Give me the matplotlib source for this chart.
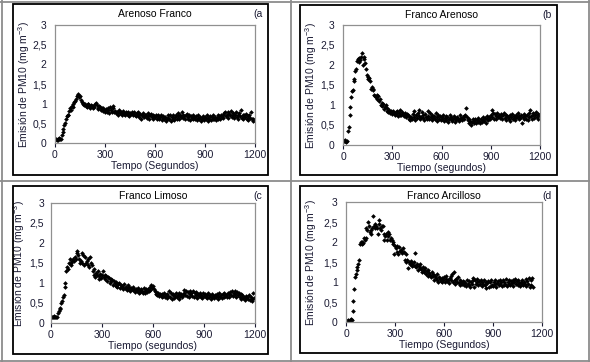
import numpy as np
import matplotlib.pyplot as plt
from matplotlib.patches import Rectangle
from matplotlib.lines import Line2D

plt.rcParams['font.family'] = ['Liberation Sans', 'DejaVu Sans']
plt.rcParams['mathtext.fontset'] = 'custom'
plt.rcParams['mathtext.rm'] = 'Liberation Sans'
plt.rcParams['mathtext.it'] = 'Liberation Sans'

# PM10 emission (mg m-3), one reading every 5 s
step = 5

arenoso_franco = [
    0.08, 0.1, 0.07, 0.1, 0.08, 0.12, 0.1, 0.1, 0.2, 0.28, 0.35, 0.45,
    0.5, 0.62, 0.68, 0.72, 0.7, 0.82, 0.88, 0.85, 0.95, 0.92, 1.0, 1.05,
    1.08, 1.12, 1.2, 1.25, 1.22, 1.18, 1.2, 1.1, 1.05, 0.98, 1.02, 0.96,
    1.0, 0.95, 0.92, 0.98, 1.0, 0.93, 0.9, 0.97, 0.94, 0.88, 0.95, 0.92,
    1.0, 1.02, 0.97, 0.9, 0.86, 0.95, 0.92, 0.85, 0.88, 0.82, 0.9, 0.84,
    0.8, 0.86, 0.78, 0.88, 0.83, 0.76, 0.92, 0.84, 0.8, 0.95, 0.88, 0.78,
    0.82, 0.75, 0.8, 0.72, 0.78, 0.84, 0.75, 0.8, 0.72, 0.77, 0.82, 0.74,
    0.7, 0.78, 0.75, 0.72, 0.8, 0.68, 0.76, 0.73, 0.79, 0.7, 0.74, 0.8,
    0.72, 0.68, 0.75, 0.7, 0.78, 0.66, 0.73, 0.62, 0.7, 0.76, 0.68, 0.65,
    0.72, 0.7, 0.64, 0.75, 0.68, 0.62, 0.7, 0.73, 0.66, 0.6, 0.72, 0.68,
    0.65, 0.7, 0.62, 0.68, 0.72, 0.6, 0.66, 0.7, 0.58, 0.64, 0.68, 0.62,
    0.66, 0.56, 0.62, 0.7, 0.64, 0.6, 0.72, 0.55, 0.66, 0.62, 0.7, 0.58,
    0.65, 0.72, 0.6, 0.68, 0.75, 0.62, 0.7, 0.66, 0.78, 0.64, 0.72, 0.68,
    0.62, 0.7, 0.74, 0.6, 0.66, 0.72, 0.58, 0.68, 0.64, 0.7, 0.6, 0.66,
    0.62, 0.68, 0.58, 0.64, 0.7, 0.6, 0.66, 0.56, 0.62, 0.68, 0.64, 0.58,
    0.66, 0.6, 0.7, 0.64, 0.56, 0.62, 0.68, 0.58, 0.65, 0.6, 0.7, 0.62,
    0.66, 0.58, 0.64, 0.7, 0.62, 0.68, 0.6, 0.72, 0.65, 0.7, 0.64, 0.76,
    0.8, 0.68, 0.72, 0.78, 0.64, 0.74, 0.7, 0.82, 0.66, 0.75, 0.7, 0.64,
    0.72, 0.78, 0.66, 0.7, 0.62, 0.76, 0.68, 0.84, 0.64, 0.72, 0.6, 0.7,
    0.66, 0.74, 0.62, 0.68, 0.58, 0.72, 0.64, 0.78, 0.6, 0.55, 0.62, 0.58,
]

franco_arenoso = [
    0.12, 0.1, 0.1, 0.12, 0.08, 0.1, 0.35, 0.45, 0.75, 0.95, 1.2, 1.35,
    1.38, 1.6, 1.65, 1.85, 1.9, 2.1, 2.15, 2.08, 2.18, 2.12, 2.2, 2.3,
    2.0, 2.15, 2.2, 2.05, 1.9, 1.75, 1.65, 1.7, 1.68, 1.6, 1.4, 1.45,
    1.4, 1.38, 1.25, 1.22, 1.2, 1.26, 1.15, 1.22, 1.1, 1.15, 1.0, 1.05,
    0.98, 1.02, 0.9, 0.95, 1.0, 0.85, 0.92, 0.82, 0.88, 0.8, 0.85, 0.82,
    0.78, 0.86, 0.8, 0.75, 0.82, 0.78, 0.84, 0.72, 0.8, 0.76, 0.88, 0.74,
    0.82, 0.78, 0.72, 0.8, 0.76, 0.7, 0.78, 0.74, 0.66, 0.72, 0.62, 0.7,
    0.65, 0.78, 0.7, 0.85, 0.62, 0.75, 0.68, 0.8, 0.72, 0.88, 0.65, 0.7,
    0.82, 0.68, 0.75, 0.62, 0.78, 0.7, 0.66, 0.85, 0.72, 0.64, 0.8, 0.7,
    0.62, 0.76, 0.68, 0.72, 0.65, 0.8, 0.7, 0.6, 0.74, 0.66, 0.72, 0.62,
    0.7, 0.65, 0.75, 0.6, 0.68, 0.72, 0.62, 0.7, 0.58, 0.66, 0.74, 0.64,
    0.7, 0.6, 0.66, 0.72, 0.58, 0.68, 0.62, 0.7, 0.65, 0.6, 0.74, 0.64,
    0.68, 0.62, 0.7, 0.66, 0.72, 0.76, 0.92, 0.7, 0.62, 0.66, 0.55, 0.6,
    0.5, 0.58, 0.64, 0.56, 0.6, 0.66, 0.55, 0.62, 0.58, 0.68, 0.6, 0.56,
    0.64, 0.58, 0.7, 0.62, 0.6, 0.68, 0.56, 0.72, 0.64, 0.62, 0.7, 0.66,
    0.75, 0.88, 0.7, 0.8, 0.66, 0.78, 0.72, 0.64, 0.8, 0.7, 0.76, 0.68,
    0.72, 0.78, 0.65, 0.74, 0.8, 0.68, 0.76, 0.62, 0.72, 0.7, 0.66, 0.74,
    0.6, 0.7, 0.78, 0.64, 0.72, 0.68, 0.62, 0.75, 0.7, 0.8, 0.66, 0.72,
    0.68, 0.74, 0.55, 0.7, 0.64, 0.78, 0.72, 0.66, 0.76, 0.62, 0.8, 0.7,
    0.88, 0.72, 0.66, 0.8, 0.74, 0.68, 0.76, 0.82, 0.7, 0.66, 0.78, 0.74,
]

franco_limoso = [
    0.15, 0.16, 0.14, 0.15, 0.17, 0.14, 0.15, 0.16, 0.25, 0.3, 0.35, 0.38,
    0.5, 0.55, 0.65, 0.7, 0.9, 1.0, 1.3, 1.4, 1.35, 1.5, 1.6, 1.45,
    1.5, 1.55, 1.6, 1.55, 1.65, 1.6, 1.75, 1.8, 1.7, 1.6, 1.5, 1.55,
    1.75, 1.5, 1.7, 1.45, 1.65, 1.5, 1.55, 1.45, 1.6, 1.4, 1.65, 1.5,
    1.45, 1.3, 1.2, 1.35, 1.15, 1.25, 1.2, 1.3, 1.18, 1.1, 1.22, 1.12,
    1.2, 1.3, 1.15, 1.1, 1.2, 1.18, 1.05, 1.15, 1.12, 1.0, 1.1, 1.05,
    1.08, 0.95, 1.05, 1.0, 0.92, 1.02, 0.9, 0.98, 1.0, 0.88, 0.95, 0.9,
    0.92, 0.85, 0.98, 0.88, 0.9, 0.82, 0.95, 0.86, 0.9, 0.8, 0.88, 0.85,
    0.9, 0.82, 0.86, 0.78, 0.84, 0.8, 0.88, 0.75, 0.82, 0.78, 0.85, 0.8,
    0.76, 0.88, 0.8, 0.75, 0.84, 0.78, 0.86, 0.8, 0.9, 0.82, 0.95, 0.88,
    0.92, 0.85, 0.8, 0.72, 0.78, 0.7, 0.75, 0.68, 0.72, 0.7, 0.65, 0.72,
    0.68, 0.74, 0.65, 0.7, 0.62, 0.72, 0.68, 0.8, 0.66, 0.75, 0.6, 0.7,
    0.72, 0.62, 0.68, 0.75, 0.65, 0.7, 0.6, 0.74, 0.68, 0.72, 0.66, 0.7,
    0.76, 0.82, 0.7, 0.8, 0.68, 0.78, 0.65, 0.8, 0.72, 0.76, 0.68, 0.8,
    0.65, 0.75, 0.7, 0.78, 0.62, 0.72, 0.68, 0.75, 0.65, 0.7, 0.62, 0.74,
    0.68, 0.72, 0.65, 0.7, 0.62, 0.75, 0.66, 0.7, 0.6, 0.72, 0.65, 0.68,
    0.62, 0.7, 0.66, 0.72, 0.6, 0.68, 0.74, 0.65, 0.7, 0.62, 0.72, 0.66,
    0.75, 0.68, 0.7, 0.64, 0.76, 0.72, 0.66, 0.78, 0.7, 0.8, 0.68, 0.75,
    0.72, 0.8, 0.66, 0.78, 0.7, 0.74, 0.65, 0.72, 0.6, 0.7, 0.62, 0.66,
    0.58, 0.68, 0.62, 0.65, 0.6, 0.7, 0.58, 0.64, 0.6, 0.56, 0.75, 0.62,
]

franco_arcilloso = [
    0.02, 0.03, 0.02, 0.04, 0.03, 0.05, 0.07, 0.06, 0.28, 0.53, 0.82, 1.12,
    1.2, 1.3, 1.38, 1.45, 1.55, 1.95, 2.0, 1.95, 2.0, 1.98, 2.1, 2.05,
    2.1, 2.35, 2.3, 2.5, 2.4, 2.25, 2.2, 2.3, 2.35, 2.65, 2.4, 2.35,
    2.45, 2.4, 2.35, 2.2, 2.45, 2.55, 2.35, 2.3, 2.4, 2.4, 2.2, 2.05,
    2.15, 2.2, 2.05, 2.15, 2.25, 2.2, 2.05, 2.1, 2.05, 1.95, 2.0, 1.7,
    1.9, 1.85, 1.75, 1.9, 1.7, 1.88, 1.78, 1.8, 1.75, 1.72, 1.85, 1.75,
    1.55, 1.7, 1.5, 1.55, 1.35, 1.5, 1.45, 1.52, 1.48, 1.4, 1.42, 1.5,
    1.72, 1.4, 1.38, 1.45, 1.3, 1.4, 1.35, 1.45, 1.32, 1.25, 1.38, 1.3,
    1.25, 1.35, 1.2, 1.28, 1.15, 1.3, 1.22, 1.18, 1.12, 1.25, 1.15, 1.2,
    1.05, 1.15, 1.1, 1.2, 1.05, 1.0, 1.12, 1.08, 1.02, 1.1, 1.0, 1.06,
    1.12, 1.0, 1.08, 1.15, 1.02, 1.05, 0.98, 1.1, 1.05, 1.15, 1.2, 1.0,
    1.25, 1.05, 0.95, 1.08, 1.0, 1.12, 0.98, 1.05, 0.92, 1.0, 0.95, 1.02,
    0.92, 1.0, 0.98, 0.9, 1.05, 0.95, 0.92, 1.02, 0.88, 1.0, 0.95, 1.05,
    1.1, 0.88, 1.05, 0.95, 1.0, 1.08, 0.92, 1.02, 0.95, 1.05, 0.9, 1.0,
    0.95, 1.05, 0.92, 1.0, 0.85, 0.98, 1.02, 0.88, 1.0, 0.9, 1.05, 0.92,
    0.9, 1.0, 0.95, 1.05, 0.88, 0.98, 1.02, 0.92, 1.05, 0.95, 1.0, 0.9,
    1.05, 0.92, 1.0, 0.95, 1.08, 0.9, 1.0, 0.95, 1.05, 0.92, 1.02, 0.98,
    1.05, 0.9, 1.0, 1.08, 0.95, 1.02, 0.92, 1.05, 0.98, 0.9, 1.0, 0.95,
    1.05, 0.92, 1.0, 0.95, 1.08, 0.9, 1.02, 0.95, 1.1, 0.88, 1.05, 0.92,
    1.1, 0.88,
]

titles = ['Arenoso Franco', 'Franco Arenoso', 'Franco Limoso', 'Franco Arcilloso']
tags = ['(a', '(b', '(c', '(d']
xlabels = ['Tempo (Segundos)', 'Tiempo (segundos)', 'Tiempo (segundos)', 'Tiempo (Segundos)']
series = [arenoso_franco, franco_arenoso, franco_limoso, franco_arcilloso]
xticks = [0, 300, 600, 900, 1200]
yticks = [0, 0.5, 1, 1.5, 2, 2.5, 3]
ytick_labels = ['0', '0,5', '1', '1,5', '2', '2,5', '3']

W, H = 590, 362
fig = plt.figure(figsize=(W / 100, H / 100), dpi=100)

def fx(px):
    return px / W

def fy(py):
    return 1 - py / H

# plot areas in pixels: left, top, right, bottom
boxes = [(55, 25, 255, 143), (343, 25, 540, 145), (51, 203, 255, 323), (346, 202, 542, 322)]
# chart frames in pixels
frames = [(13, 4, 268, 175), (300, 5, 557, 175), (13, 186, 268, 354), (300, 186, 557, 353)]
ylabel_x = [32, 319, 27, 319]
ytick_pad = [6, 6, 5, 6]

# table lines
grey = '#8c8c8c'
for x in [1.5, 291, 588.5]:
    fig.add_artist(Line2D([fx(x), fx(x)], [0, 1], color=grey, lw=1.3))
for y in [1.5, 181, 360.5]:
    fig.add_artist(Line2D([0, 1], [fy(y), fy(y)], color=grey, lw=1.3))

for (l, t, r, b) in frames:
    fig.add_artist(Rectangle((fx(l), fy(b)), fx(r - l), (b - t) / H,
                             fill=False, edgecolor='black', lw=1.3))

txt = '#1a1a33'
for i in range(4):
    l, t, r, b = boxes[i]
    ax = fig.add_axes([fx(l), fy(b), fx(r - l), (b - t) / H])
    vals = series[i]
    t_sec = np.arange(len(vals)) * step
    ax.plot(t_sec, vals, linestyle='none', marker='D', markersize=2.4,
            color='black', markeredgewidth=0)
    ax.set_xlim(0, 1200)
    ax.set_ylim(0, 3)
    ax.set_xticks(xticks)
    ax.set_yticks(yticks)
    ax.set_yticklabels(ytick_labels)
    ax.tick_params(labelsize=7.5, colors=txt, length=3, width=0.8, pad=2)
    ax.tick_params(axis='y', pad=ytick_pad[i], length=0)
    for s in ax.spines.values():
        s.set_color('#909090')
        s.set_linewidth(0.9)
    ax.set_xlabel(xlabels[i], fontsize=7.5, color=txt, labelpad=1)
    ax.set_ylabel('Emisión de PM10 (mg m$^{-3}$)', fontsize=7.5, color=txt)
    ax.yaxis.set_label_coords((ylabel_x[i] - l) / (r - l), 0.5)
    fl, ft, fr, fb = frames[i]
    fig.text(fx((l + r) / 2), fy(ft + 10), titles[i], ha='center', va='center',
             fontsize=7.5, color='black')
    fig.text(fx(fr - 10), fy(ft + 10), tags[i], ha='center', va='center',
             fontsize=7.5, color=txt)

fig.savefig('out.png', dpi=100)
